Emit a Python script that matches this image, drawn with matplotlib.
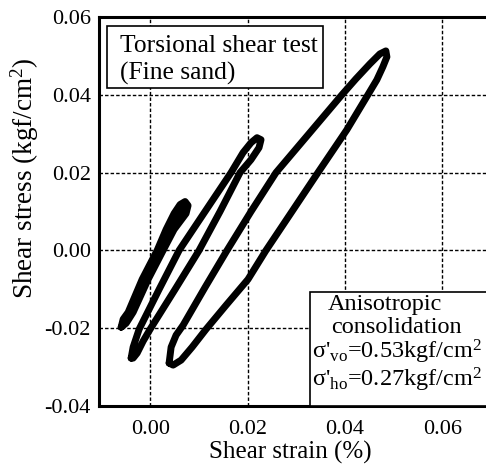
import numpy as np
import matplotlib.pyplot as plt
from matplotlib.patches import Rectangle

# Times-like look
plt.rcParams['font.family'] = 'Liberation Serif'
plt.rcParams['mathtext.fontset'] = 'custom'
plt.rcParams['mathtext.rm'] = 'Liberation Serif'
plt.rcParams['mathtext.it'] = 'Liberation Serif:italic'

# hysteresis loops: shear strain (%) / shear stress (kgf/cm2)
loop1_strain = [-0.00595, -0.00554, -0.00451, -0.00164, 0.00144, 0.00328, 0.00492, 0.00615,
                0.00718, 0.00779, 0.00738, 0.00492, 0.00267, -0.00041, -0.00349, -0.00492]
loop1_stress = [-0.01974, -0.01769, -0.01590, -0.00744, 0.0, 0.00538, 0.00949, 0.01179,
                0.01256, 0.01154, 0.00949, 0.00538, 0.0, -0.00744, -0.01590, -0.01872]

loop2_strain = [-0.00390, -0.00349, -0.00226, 0.00185, 0.00595, 0.01128, 0.01662, 0.01908,
                0.02072, 0.02195, 0.02277, 0.02236, 0.02072, 0.01846, 0.01436, 0.01005,
                0.00513, 0.0, -0.00144, -0.00267, -0.00349]
loop2_stress = [-0.02769, -0.02487, -0.02026, -0.01000, 0.0, 0.01000, 0.02000, 0.02513,
                0.02769, 0.02897, 0.02846, 0.02641, 0.02333, 0.02000, 0.01000, 0.0,
                -0.01000, -0.02026, -0.02333, -0.02641, -0.02769]

loop3_strain = [0.00390, 0.00431, 0.00533, 0.00677, 0.01128, 0.01579, 0.02072, 0.02585,
                0.03262, 0.03938, 0.04226, 0.04513, 0.04718, 0.04841, 0.04862, 0.04779,
                0.04656, 0.04472, 0.04041, 0.03446, 0.02913, 0.02379, 0.02010, 0.01559,
                0.01149, 0.00862, 0.00636, 0.00472]
loop3_stress = [-0.02897, -0.02487, -0.02179, -0.01923, -0.00949, 0.0, 0.01000, 0.02000,
                0.03000, 0.04000, 0.04410, 0.04795, 0.05051, 0.05128, 0.04974, 0.04718,
                0.04385, 0.04000, 0.03103, 0.02000, 0.01000, 0.0, -0.00744, -0.01410,
                -0.02026, -0.02487, -0.02821, -0.02949]

xticks = [0.00, 0.02, 0.04, 0.06]
yticks = [-0.04, -0.02, 0.00, 0.02, 0.04, 0.06]

fig = plt.figure(figsize=(4.86, 4.68), dpi=100)
ax = fig.add_axes([99/486, 1-406/468, 392/486, 389/468])

# draw each loop closed; the small one is so narrow it prints solid
ax.fill(loop1_strain, loop1_stress, color='black', zorder=3)
for xs, ys in [(loop1_strain, loop1_stress), (loop2_strain, loop2_stress), (loop3_strain, loop3_stress)]:
    ax.plot(xs + xs[:1], ys + ys[:1], color='black', lw=5,
            solid_joinstyle='round', solid_capstyle='round', zorder=3)

ax.set_xlim(-0.0105, 0.07)
ax.set_ylim(-0.04, 0.06)
ax.set_xticks(xticks)
ax.set_xticklabels(['%.2f' % v for v in xticks])
ax.set_yticks(yticks)
ax.set_yticklabels(['%.2f' % v for v in yticks])
ax.tick_params(length=0, labelsize=16)
ax.tick_params(axis='x', pad=10)
ax.tick_params(axis='y', pad=6)

ax.grid(True, color='black', linestyle=(0, (2.5, 1.5)), linewidth=1.0)
ax.set_axisbelow(True)
for side in ['left', 'bottom', 'top']:
    ax.spines[side].set_linewidth(2.2)
ax.spines['right'].set_visible(False)

# title box
ax.add_patch(Rectangle((0.0204, 0.8175), 0.551, 0.1594, transform=ax.transAxes,
                       facecolor='white', edgecolor='black', lw=1.2, zorder=4))
ax.text(0.0536, 0.910, 'Torsional shear test', transform=ax.transAxes,
        va='baseline', fontsize=18.4, zorder=5)
ax.text(0.0536, 0.838, '(Fine sand)', transform=ax.transAxes,
        va='baseline', fontsize=18.4, zorder=5)

# consolidation box
ax.add_patch(Rectangle((0.538, 0.0), 0.47, 0.293, transform=ax.transAxes,
                       facecolor='white', edgecolor='black', lw=1.2, zorder=4, clip_on=False))
ax.text(0.730, 0.247, 'Anisotropic', transform=ax.transAxes, ha='center',
        va='baseline', fontsize=17.5, zorder=5)
ax.text(0.760, 0.188, 'consolidation', transform=ax.transAxes, ha='center',
        va='baseline', fontsize=17.5, zorder=5)
ax.text(0.543, 0.122, r"σ'$_{\rm vo}$=0.53kgf/cm$^2$", transform=ax.transAxes,
        va='baseline', fontsize=17.5, zorder=5, clip_on=False)
ax.text(0.543, 0.051, r"σ'$_{\rm ho}$=0.27kgf/cm$^2$", transform=ax.transAxes,
        va='baseline', fontsize=17.5, zorder=5, clip_on=False)

fig.text(290/486, 1-452/468, 'Shear strain (%)', ha='center', va='center', fontsize=18)
fig.text(25/486, 1-178/468, 'Shear stress (kgf/cm$^2$)', ha='center', va='center',
         rotation=90, fontsize=19.5)

plt.savefig('out.png', dpi=100)
